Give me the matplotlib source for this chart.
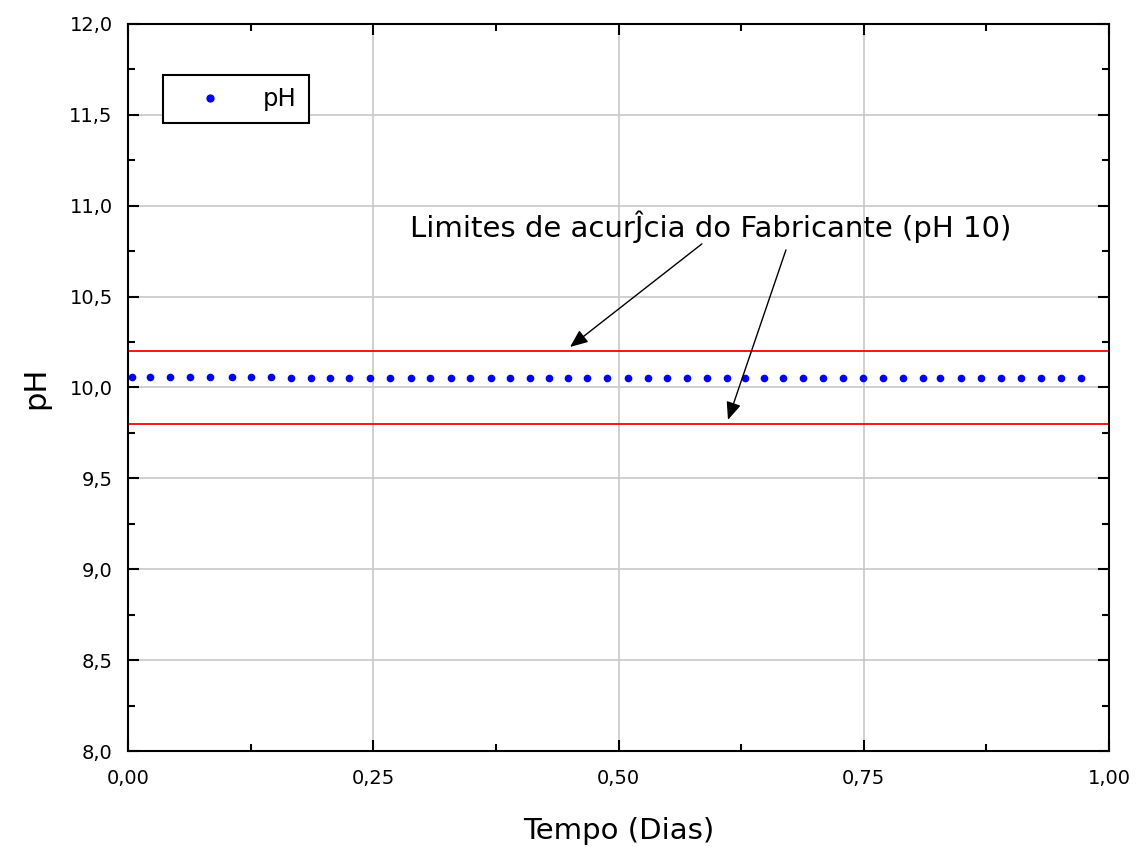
import matplotlib
matplotlib.use("Agg")
import matplotlib.pyplot as plt
from matplotlib.ticker import MultipleLocator, FuncFormatter

# ---- data ----
tempo_dias = [0.0038, 0.0224, 0.0428, 0.0632, 0.0836, 0.1057, 0.1254, 0.1455,
              0.1662, 0.1862, 0.2059, 0.2253, 0.2467, 0.2671, 0.2882, 0.3078,
              0.3290, 0.3486, 0.3697, 0.3894, 0.4098, 0.4292, 0.4485, 0.4676,
              0.4883, 0.5097, 0.5301, 0.5494, 0.5698, 0.5902, 0.6106, 0.6289,
              0.6483, 0.6677, 0.6881, 0.7085, 0.7289, 0.7492, 0.7696, 0.7900,
              0.8104, 0.8277, 0.8491, 0.8695, 0.8899, 0.9103, 0.9307, 0.9511,
              0.9715]
ph_values = [10.06, 10.06, 10.06, 10.06, 10.06, 10.06, 10.06, 10.06,
             10.05, 10.05, 10.05, 10.05, 10.05, 10.05, 10.05, 10.05,
             10.05, 10.05, 10.05, 10.05, 10.05, 10.05, 10.05, 10.05,
             10.05, 10.05, 10.05, 10.05, 10.05, 10.05, 10.05, 10.05,
             10.05, 10.05, 10.05, 10.05, 10.05, 10.05, 10.05, 10.05,
             10.05, 10.05, 10.05, 10.05, 10.05, 10.05, 10.05, 10.05,
             10.05]
limite_superior = 10.2
limite_inferior = 9.8
x_lim = [0.0, 1.0]
y_lim = [8.0, 12.0]
annotation_text = "Limites de acurĴcia do Fabricante (pH 10)"
annotation_pos = (0.2875, 10.883)
arrow_starts = [(0.585, 10.79), (0.6707, 10.757)]
arrow_ends = [(0.4506, 10.223), (0.6116, 9.822)]

plt.rcParams['font.family'] = ['DejaVu Sans']

fig = plt.figure(figsize=(11.37, 8.47), dpi=100)
ax = fig.add_axes([128/1137, 1-751/847, 981/1137, 727/847])

ax.set_xlim(*x_lim)
ax.set_ylim(*y_lim)

ax.grid(True, which='major', color='#c8c8c8', linewidth=1.2, zorder=0)
ax.set_axisbelow(True)

ax.axhline(limite_superior, color='#ff0000', linewidth=1.3, zorder=2)
ax.axhline(limite_inferior, color='#ff0000', linewidth=1.3, zorder=2)

ax.plot(tempo_dias, ph_values, linestyle='none', marker='o', markersize=4.5,
        color='#0000ff', label='pH', zorder=3, clip_on=False)

for (xs, ys), (xe, ye) in zip(arrow_starts, arrow_ends):
    ax.annotate('', xy=(xe, ye), xytext=(xs, ys),
                arrowprops=dict(arrowstyle='-|>,head_length=0.6,head_width=0.25',
                                color='black', lw=1.0,
                                mutation_scale=18, shrinkA=0, shrinkB=0),
                zorder=4)

ax.text(annotation_pos[0], annotation_pos[1], annotation_text, fontsize=21,
        ha='left', va='center', color='black', zorder=5)

ax.xaxis.set_major_locator(MultipleLocator(0.25))
ax.xaxis.set_minor_locator(MultipleLocator(0.125))
ax.yaxis.set_major_locator(MultipleLocator(0.5))
ax.yaxis.set_minor_locator(MultipleLocator(0.25))
ax.xaxis.set_major_formatter(FuncFormatter(lambda v, p: f"{v:.2f}".replace('.', ',')))
ax.yaxis.set_major_formatter(FuncFormatter(lambda v, p: f"{v:.1f}".replace('.', ',')))

ax.tick_params(which='both', direction='in', top=True, right=True, width=1.5, color='black')
ax.tick_params(which='major', length=8)
ax.tick_params(which='minor', length=5)
ax.tick_params(axis='x', which='major', pad=13, labelsize=14)
ax.tick_params(axis='y', which='major', pad=11, labelsize=14)

for s in ax.spines.values():
    s.set_linewidth(1.5)
    s.set_color('black')

ax.set_xlabel('Tempo (Dias)', fontsize=21, labelpad=21)
ax.set_ylabel('pH', fontsize=22, labelpad=14)

leg = ax.legend(loc='upper left', bbox_to_anchor=(0.0357, 0.930), borderaxespad=0,
                fontsize=17.5, frameon=True, fancybox=False, edgecolor='black',
                borderpad=0.5, handlelength=2.9, handletextpad=0.72, markerscale=1.1)
leg.get_frame().set_linewidth(1.5)
leg.get_frame().set_alpha(1)

fig.savefig('out.png', dpi=100)
